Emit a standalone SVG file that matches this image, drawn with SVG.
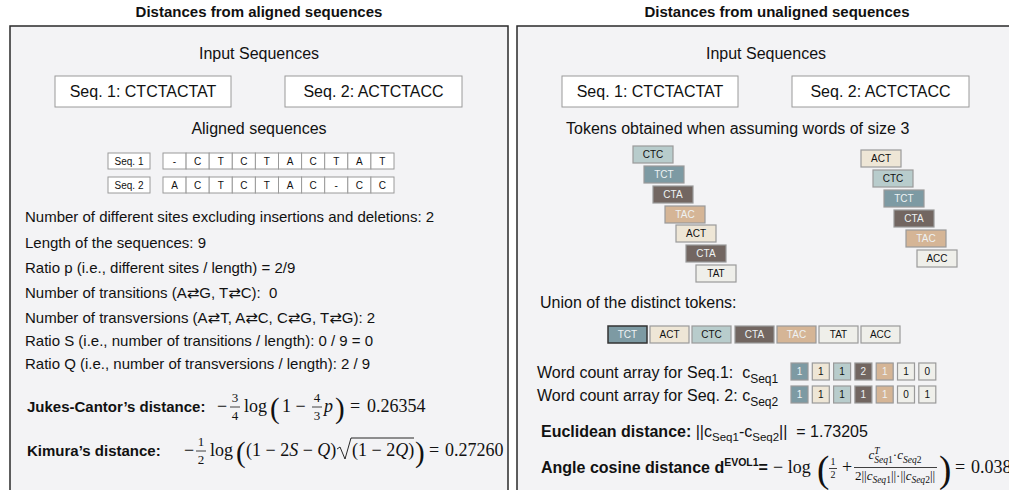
<svg xmlns="http://www.w3.org/2000/svg" width="1009" height="490" viewBox="0 0 1009 490">
<style>
text{font-family:"Liberation Sans","DejaVu Sans",sans-serif;fill:#111}
.title{font-size:15px;font-weight:bold;text-anchor:middle}
.panel{fill:#f3f3f5;stroke:#2a2a2a;stroke-width:1.5}
.box{fill:#fff;stroke:#9a9a9a;stroke-width:1}
.h{font-size:16px;text-anchor:middle}
.st{text-anchor:start}
.seq{font-size:16px;text-anchor:middle}
.body{font-size:15px}
.cell{fill:#fff;stroke:#9a9a9a;stroke-width:1}
.ct{font-size:10px;text-anchor:middle}
.b{font-weight:bold}
.m{font-family:"Liberation Serif","DejaVu Serif",serif;font-size:18px}
.mi{font-family:"Liberation Serif","DejaVu Serif",serif;font-style:italic}
.up{font-style:normal}
.fr{font-family:"Liberation Serif","DejaVu Serif",serif;font-size:13px;text-anchor:middle}
.par{font-family:"Liberation Serif","DejaVu Serif",serif;font-size:29px}
.bpar{font-family:"Liberation Serif","DejaVu Serif",serif;font-size:37px}
.bar{stroke:#111;stroke-width:0.8}
.tk{stroke:#9a9a9a;stroke-width:1.2}
.tt{font-size:10px;text-anchor:middle}
.cCTC{fill:#b8cccc}.cTCT{fill:#7d9aa3}.cCTA{fill:#726661}.cTAC{fill:#d5b596}.cACT{fill:#eee6d6}.cTAT{fill:#efefea}.cACC{fill:#efefea}
.lt{fill:#eef2f3}
</style>

<g id="left-panel">
<text class="title" x="259" y="17">Distances from aligned sequences</text>
<rect class="panel" x="10" y="26" width="498" height="470"/>
</g>
<g id="right-panel">
<text class="title" x="777" y="17">Distances from unaligned sequences</text>
<rect class="panel" x="517" y="26" width="498" height="470"/>
</g>

<g id="left-input">
<text class="h" x="259" y="59">Input Sequences</text>
<g id="L-seq1"><rect class="box" x="55" y="76" width="176" height="31"/><text class="seq" x="143" y="97">Seq. 1: CTCTACTAT</text></g>
<g id="L-seq2"><rect class="box" x="285" y="76" width="177" height="31"/><text class="seq" x="373.5" y="97">Seq. 2: ACTCTACC</text></g>
</g>

<g id="aligned">
<text class="h" x="259" y="134">Aligned sequences</text>
<g id="row1">
<rect class="cell" x="108" y="153" width="42" height="16"/><text class="ct" x="129" y="165">Seq. 1</text>
<rect class="cell" x="163" y="153" width="23.1" height="16"/><rect class="cell" x="186.1" y="153" width="23.1" height="16"/><rect class="cell" x="209.2" y="153" width="23.1" height="16"/><rect class="cell" x="232.3" y="153" width="23.1" height="16"/><rect class="cell" x="255.4" y="153" width="23.1" height="16"/><rect class="cell" x="278.5" y="153" width="23.1" height="16"/><rect class="cell" x="301.6" y="153" width="23.1" height="16"/><rect class="cell" x="324.7" y="153" width="23.1" height="16"/><rect class="cell" x="347.8" y="153" width="23.1" height="16"/><rect class="cell" x="370.9" y="153" width="23.1" height="16"/>
<text class="ct" y="165"><tspan x="174.5">-</tspan><tspan x="197.6">C</tspan><tspan x="220.7">T</tspan><tspan x="243.8">C</tspan><tspan x="266.9">T</tspan><tspan x="290">A</tspan><tspan x="313.1">C</tspan><tspan x="336.2">T</tspan><tspan x="359.3">A</tspan><tspan x="382.4">T</tspan></text>
</g>
<g id="row2">
<rect class="cell" x="108" y="177" width="42" height="16"/><text class="ct" x="129" y="189">Seq. 2</text>
<rect class="cell" x="163" y="177" width="23.1" height="16"/><rect class="cell" x="186.1" y="177" width="23.1" height="16"/><rect class="cell" x="209.2" y="177" width="23.1" height="16"/><rect class="cell" x="232.3" y="177" width="23.1" height="16"/><rect class="cell" x="255.4" y="177" width="23.1" height="16"/><rect class="cell" x="278.5" y="177" width="23.1" height="16"/><rect class="cell" x="301.6" y="177" width="23.1" height="16"/><rect class="cell" x="324.7" y="177" width="23.1" height="16"/><rect class="cell" x="347.8" y="177" width="23.1" height="16"/><rect class="cell" x="370.9" y="177" width="23.1" height="16"/>
<text class="ct" y="189"><tspan x="174.5">A</tspan><tspan x="197.6">C</tspan><tspan x="220.7">T</tspan><tspan x="243.8">C</tspan><tspan x="266.9">T</tspan><tspan x="290">A</tspan><tspan x="313.1">C</tspan><tspan x="336.2">-</tspan><tspan x="359.3">C</tspan><tspan x="382.4">C</tspan></text>
</g>
</g>

<g id="stats">
<text class="body" x="25" y="222">Number of different sites excluding insertions and deletions: 2</text>
<text class="body" x="25" y="248">Length of the sequences: 9</text>
<text class="body" x="25" y="273">Ratio p (i.e., different sites / length) = 2/9</text>
<text class="body" x="25" y="298">Number of transitions (A⇄G, T⇄C):&#160; 0</text>
<text class="body" x="25" y="323">Number of transversions (A⇄T, A⇄C, C⇄G, T⇄G): 2</text>
<text class="body" x="25" y="346">Ratio S (i.e., number of transitions / length): 0 / 9 = 0</text>
<text class="body" x="25" y="369">Ratio Q (i.e., number of transversions / length): 2 / 9</text>
</g>

<g id="jukes">
<text class="body b" x="27" y="412">Jukes-Cantor’s distance:</text>
<text class="m" x="217" y="412">−</text>
<text class="fr" x="235" y="402">3</text><line class="bar" x1="230" y1="407" x2="240" y2="407"/><text class="fr" x="235" y="420">4</text>
<text class="m" x="244" y="412">log</text>
<text class="par" x="270" y="418">(</text>
<text class="m" x="282" y="412">1 −</text>
<text class="fr" x="317" y="402">4</text><line class="bar" x1="312" y1="407" x2="322" y2="407"/><text class="fr" x="317" y="420">3</text>
<text class="m mi" x="324" y="412">p</text>
<text class="par" x="335" y="418">)</text>
<text class="m" x="350" y="412">=</text>
<text class="m" x="367" y="412">0.26354</text>
</g>

<g id="kimura">
<text class="body b" x="27" y="456">Kimura’s distance:</text>
<text class="m" x="184" y="456">−</text>
<text class="fr" x="201" y="446">1</text><line class="bar" x1="196" y1="451" x2="206" y2="451"/><text class="fr" x="201" y="464">2</text>
<text class="m" x="210" y="456">log</text>
<text class="par" x="236" y="462">(</text>
<text class="m" x="246" y="456">(1 − 2<tspan class="mi">S</tspan> − <tspan class="mi">Q</tspan>)</text>
<path d="M337,449 l3,-2 l5,12 l6,-21 h63" fill="none" stroke="#111" stroke-width="0.9"/>
<text class="m" x="352" y="456">(1 − 2<tspan class="mi">Q</tspan>)</text>
<text class="par" x="415" y="462">)</text>
<text class="m" x="429" y="456">=</text>
<text class="m" x="445" y="456">0.27260</text>
</g>

<g id="right-input">
<text class="h" x="766" y="59">Input Sequences</text>
<g id="R-seq1"><rect class="box" x="562" y="76" width="176" height="31"/><text class="seq" x="650" y="97">Seq. 1: CTCTACTAT</text></g>
<g id="R-seq2"><rect class="box" x="792" y="76" width="177" height="31"/><text class="seq" x="880.5" y="97">Seq. 2: ACTCTACC</text></g>
<text class="h st" x="566" y="134">Tokens obtained when assuming words of size 3</text>
</g>

<g id="tokens-seq1">
<rect class="tk cCTC" x="633" y="146" width="40" height="17"/><text class="tt" x="653" y="158">CTC</text>
<rect class="tk cTCT" x="644" y="166" width="40" height="17"/><text class="tt lt" x="664" y="178">TCT</text>
<rect class="tk cCTA" x="653" y="186" width="40" height="17"/><text class="tt lt" x="673" y="198">CTA</text>
<rect class="tk cTAC" x="665" y="206" width="40" height="17"/><text class="tt lt" x="685" y="218">TAC</text>
<rect class="tk cACT" x="676" y="225" width="40" height="17"/><text class="tt" x="696" y="237">ACT</text>
<rect class="tk cCTA" x="686" y="245" width="40" height="17"/><text class="tt lt" x="706" y="257">CTA</text>
<rect class="tk cTAT" x="696" y="265" width="40" height="17"/><text class="tt" x="716" y="277">TAT</text>
</g>
<g id="tokens-seq2">
<rect class="tk cACT" x="861" y="150" width="40" height="17"/><text class="tt" x="881" y="162">ACT</text>
<rect class="tk cCTC" x="873" y="170" width="40" height="17"/><text class="tt" x="893" y="182">CTC</text>
<rect class="tk cTCT" x="884" y="190" width="40" height="17"/><text class="tt lt" x="904" y="202">TCT</text>
<rect class="tk cCTA" x="894" y="210" width="40" height="17"/><text class="tt lt" x="914" y="222">CTA</text>
<rect class="tk cTAC" x="906" y="230" width="40" height="17"/><text class="tt lt" x="926" y="242">TAC</text>
<rect class="tk cACC" x="917" y="250" width="40" height="17"/><text class="tt" x="937" y="262">ACC</text>
</g>

<g id="union">
<text class="h st" x="540" y="308">Union of the distinct tokens:</text>
<rect class="cTCT" x="608" y="326" width="39" height="17" stroke="#333" stroke-width="1.5"/><text class="tt lt" x="627.5" y="338">TCT</text>
<rect class="tk cACT" x="650" y="326" width="39" height="17"/><text class="tt" x="669.5" y="338">ACT</text>
<rect class="tk cCTC" x="692" y="326" width="39" height="17"/><text class="tt" x="711.5" y="338">CTC</text>
<rect class="tk cCTA" x="735" y="326" width="39" height="17"/><text class="tt lt" x="754.5" y="338">CTA</text>
<rect class="tk cTAC" x="777" y="326" width="39" height="17"/><text class="tt lt" x="796.5" y="338">TAC</text>
<rect class="tk cTAT" x="819" y="326" width="39" height="17"/><text class="tt" x="838.5" y="338">TAT</text>
<rect class="tk cACC" x="861" y="326" width="39" height="17"/><text class="tt" x="880.5" y="338">ACC</text>
</g>

<g id="count-seq1">
<text class="h st" x="537" y="378">Word count array for Seq.1:&#160; c<tspan font-size="12" dy="5">Seq1</tspan></text>
<rect class="tk cTCT" x="791" y="363" width="17" height="17"/><text class="tt lt" x="799.5" y="375">1</text>
<rect class="tk cACT" x="812.3" y="363" width="17" height="17"/><text class="tt" x="820.8" y="375">1</text>
<rect class="tk cCTC" x="833.6" y="363" width="17" height="17"/><text class="tt" x="842.1" y="375">1</text>
<rect class="tk cCTA" x="854.9" y="363" width="17" height="17"/><text class="tt lt" x="863.4" y="375">2</text>
<rect class="tk cTAC" x="876.2" y="363" width="17" height="17"/><text class="tt lt" x="884.7" y="375">1</text>
<rect class="tk cTAT" x="897.5" y="363" width="17" height="17"/><text class="tt" x="906" y="375">1</text>
<rect class="tk cACC" x="918.8" y="363" width="17" height="17"/><text class="tt" x="927.3" y="375">0</text>
</g>
<g id="count-seq2">
<text class="h st" x="537" y="401">Word count array for Seq. 2: c<tspan font-size="12" dy="5">Seq2</tspan></text>
<rect class="tk cTCT" x="791" y="386" width="17" height="17"/><text class="tt lt" x="799.5" y="398">1</text>
<rect class="tk cACT" x="812.3" y="386" width="17" height="17"/><text class="tt" x="820.8" y="398">1</text>
<rect class="tk cCTC" x="833.6" y="386" width="17" height="17"/><text class="tt" x="842.1" y="398">1</text>
<rect class="tk cCTA" x="854.9" y="386" width="17" height="17"/><text class="tt lt" x="863.4" y="398">1</text>
<rect class="tk cTAC" x="876.2" y="386" width="17" height="17"/><text class="tt lt" x="884.7" y="398">1</text>
<rect class="tk cTAT" x="897.5" y="386" width="17" height="17"/><text class="tt" x="906" y="398">0</text>
<rect class="tk cACC" x="918.8" y="386" width="17" height="17"/><text class="tt" x="927.3" y="398">1</text>
</g>

<g id="euclid">
<text class="h st" x="541" y="437"><tspan class="b">Euclidean distance:</tspan> ||c<tspan font-size="11.5" dy="4">Seq1</tspan><tspan dy="-4">-c</tspan><tspan font-size="11.5" dy="4">Seq2</tspan><tspan dy="-4">||&#160; = 1.73205</tspan></text>
</g>

<g id="angle">
<text class="h b st" x="541" y="473">Angle cosine distance d<tspan font-size="10.5" dy="-7">EVOL1</tspan><tspan dy="7">=</tspan></text>
<text class="m" x="773" y="473">− log</text>
<text class="bpar" x="817" y="482">(</text>
<text class="fr" x="833" y="465" style="font-size:10px">1</text><line class="bar" x1="829" y1="468.5" x2="837" y2="468.5"/><text class="fr" x="833" y="478" style="font-size:10px">2</text>
<text class="m" x="842" y="473">+</text>
<text class="mi" x="895" y="459" font-size="13" text-anchor="middle">c<tspan font-size="9.5" dy="-5">T</tspan><tspan font-size="9.5" dx="-5.3" dy="8.5">Seq</tspan><tspan font-size="9.5" class="up">1</tspan><tspan class="up" dy="-3.5">·</tspan>c<tspan font-size="9.5" dy="3.5">Seq</tspan><tspan font-size="9.5" class="up">2</tspan></text>
<line class="bar" x1="854" y1="467.5" x2="937" y2="467.5"/>
<text class="mi" x="895" y="480" font-size="13" text-anchor="middle"><tspan class="up">2||</tspan>c<tspan font-size="9.5" dy="3">Seq</tspan><tspan font-size="9.5" class="up">1</tspan><tspan class="up" dy="-3">||·||</tspan>c<tspan font-size="9.5" dy="3">Seq</tspan><tspan font-size="9.5" class="up">2</tspan><tspan class="up" dy="-3">||</tspan></text>
<text class="bpar" x="939" y="482">)</text>
<text class="m" x="955" y="473">=</text>
<text class="m" x="971" y="473">0.038</text>
</g>
</svg>
